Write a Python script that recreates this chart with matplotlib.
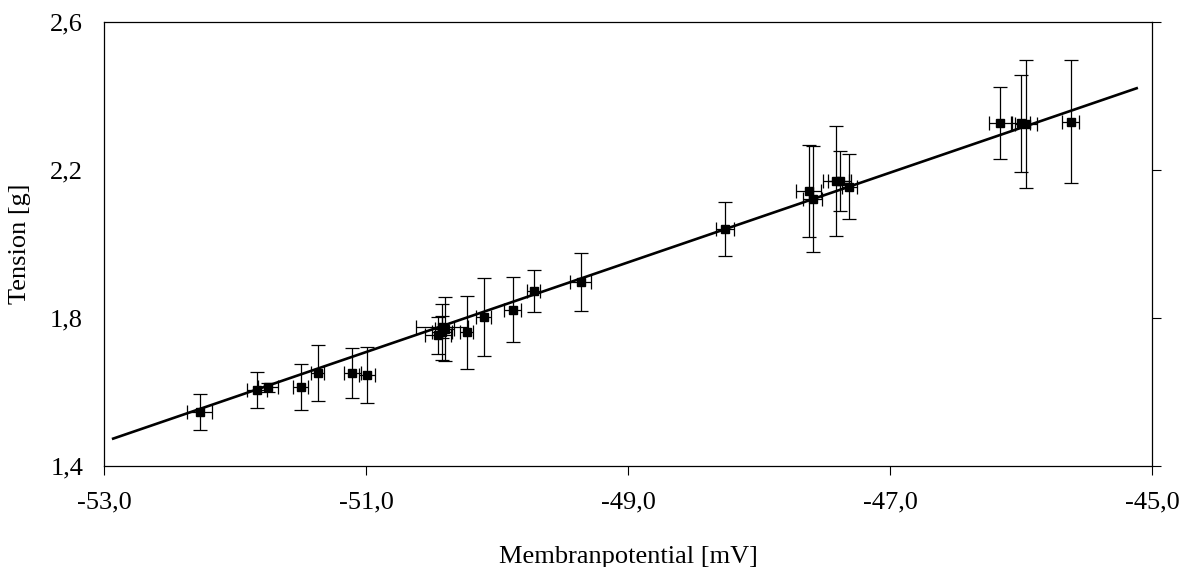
import matplotlib.pyplot as plt
import numpy as np
from matplotlib.ticker import FuncFormatter

plt.rcParams['font.family'] = ['Liberation Serif', 'DejaVu Serif']

# measured points (membrane potential in mV, tension in g)
potential = [-52.27, -51.83, -51.75, -51.50, -51.37, -51.105, -50.995,
             -50.45, -50.42, -50.40, -50.42, -50.23, -50.10, -49.88,
             -49.72, -49.36, -48.26, -47.62, -47.59, -47.41, -47.385,
             -47.31, -46.16, -46.00, -45.96, -45.62]
tension = [1.546, 1.605, 1.613, 1.614, 1.652, 1.652, 1.646,
           1.754, 1.762, 1.770, 1.776, 1.761, 1.802, 1.822,
           1.873, 1.898, 2.040, 2.143, 2.122, 2.170, 2.170,
           2.155, 2.328, 2.326, 2.324, 2.330]
potential_err = [0.094, 0.076, 0.075, 0.06, 0.05, 0.064, 0.06,
                 0.10, 0.08, 0.07, 0.20, 0.05, 0.057, 0.064,
                 0.05, 0.08, 0.071, 0.095, 0.072, 0.10, 0.09,
                 0.06, 0.084, 0.065, 0.084, 0.066]
tension_err = [0.048, 0.048, 0.012, 0.063, 0.076, 0.068, 0.075,
               0.05, 0.076, 0.086, 0.03, 0.099, 0.106, 0.088,
               0.057, 0.079, 0.073, 0.124, 0.144, 0.149, 0.081,
               0.087, 0.097, 0.132, 0.173, 0.166]

# regression line end points
fit_x = [-52.93, -45.117]
fit_y = [1.474, 2.421]

x_ticks = [-53, -51, -49, -47, -45]
y_ticks = [1.4, 1.8, 2.2, 2.6]

def comma(v, pos):
    return f"{v:.1f}".replace('.', ',')

fig = plt.figure(figsize=(11.87, 5.67), dpi=100)
ax = fig.add_axes([104 / 1187, 1 - 466 / 567, 1048 / 1187, 444 / 567])

ax.plot(fit_x, fit_y, color='black', linewidth=1.9, zorder=2)
ax.errorbar(potential, tension, xerr=potential_err, yerr=tension_err,
            fmt='s', color='black', ecolor='black', elinewidth=0.9,
            capsize=4.8, capthick=0.9, markersize=5.5, zorder=3)

ax.set_xlim(-53, -45)
ax.set_ylim(1.4, 2.6)
ax.set_xticks(x_ticks)
ax.set_yticks(y_ticks)
ax.xaxis.set_major_formatter(FuncFormatter(comma))
ax.yaxis.set_major_formatter(FuncFormatter(comma))

ax.tick_params(axis='x', direction='out', length=6.5, width=0.8,
               labelsize=19, pad=12, top=False)
ax.tick_params(axis='y', direction='out', length=6.5, width=0.8,
               labelsize=19, left=False, right=True,
               labelleft=True, labelright=False, pad=8.5)
for s in ax.spines.values():
    s.set_linewidth(0.9)

ax.set_xlabel('Membranpotential [mV]', fontsize=19, labelpad=23)
ax.set_ylabel('Tension [g]', fontsize=19, labelpad=13.5)

fig.savefig('out.png', dpi=100)
